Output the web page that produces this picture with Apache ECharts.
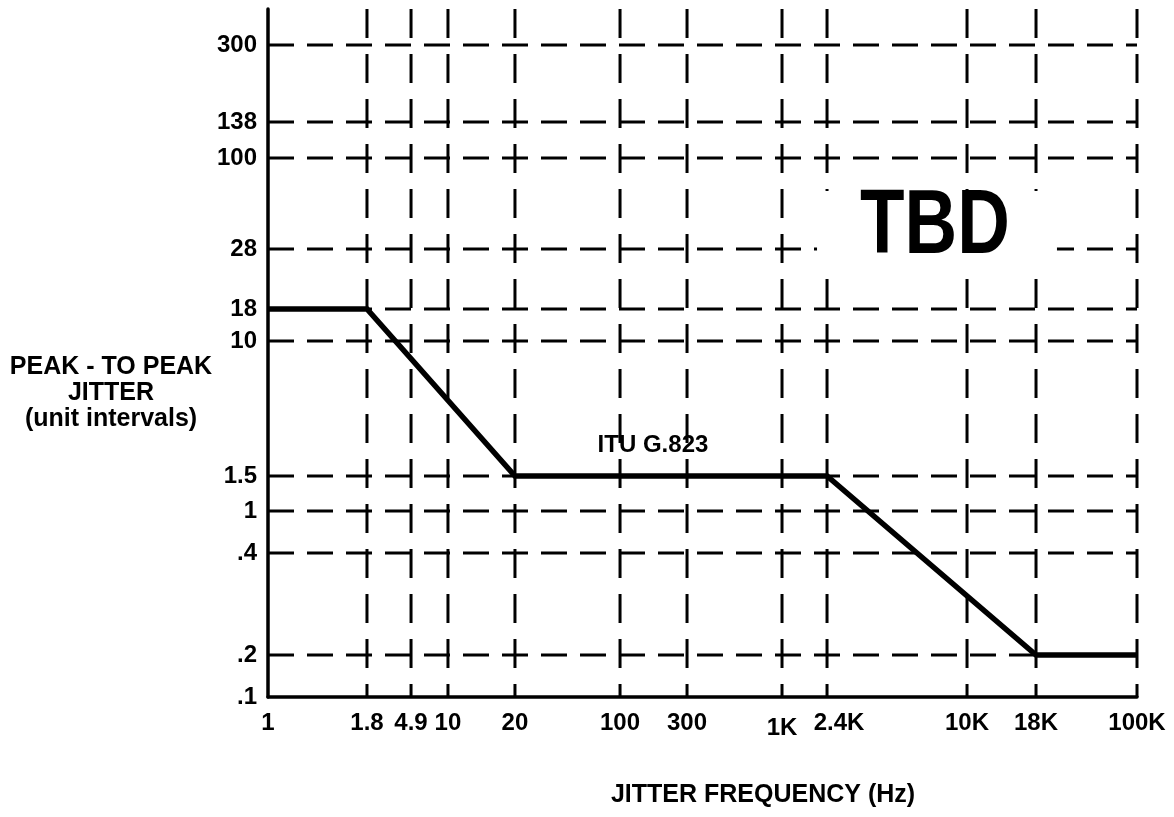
<!DOCTYPE html>
<html><head><meta charset="utf-8">
<script src="https://cdn.jsdelivr.net/npm/echarts@6/dist/echarts.min.js"></script>
<style>html,body{margin:0;padding:0;background:#fff}#c{width:1174px;height:817px}</style>
</head><body><div id="c"></div>
<script>
// ---- data ----
const xTickValues = [1, 1.8, 4.9, 10, 20, 100, 300, 1000, 2400, 10000, 18000, 100000];
const xTickLabels = ['1', '1.8', '4.9', '10', '20', '100', '300', '1K', '2.4K', '10K', '18K', '100K'];
const yTickValues = [0.1, 0.2, 0.4, 1, 1.5, 10, 18, 28, 100, 138, 300];
const yTickLabels = ['.1', '.2', '.4', '1', '1.5', '10', '18', '28', '100', '138', '300'];
// ITU G.823 jitter tolerance mask
const maskFreqHz = [1, 1.8, 20, 2400, 18000, 100000];
const maskJitterUI = [18, 18, 1.5, 1.5, 0.2, 0.2];

// ---- schematic (non-uniform) axis scale: where each tick sits, in % of axis length ----
const X_SCALE = [0, 11.39, 16.46, 20.71, 28.42, 40.51, 48.22, 59.15, 64.33, 80.44, 88.38, 100];
const Y_SCALE = [0, 6.10, 20.93, 27.03, 32.12, 51.74, 56.40, 65.12, 78.34, 83.58, 94.77];

function xPos(v) { return X_SCALE[xTickValues.indexOf(v)]; }
function yPos(v) { return Y_SCALE[yTickValues.indexOf(v)]; }

const FONT = '"Liberation Sans", Arial, Helvetica, sans-serif';
const xLabelMap = new Map(X_SCALE.map((p, i) => [p, xTickLabels[i]]));
const yLabelMap = new Map(Y_SCALE.map((p, i) => [p, yTickLabels[i]]));

const series = [];
// vertical dashed grid lines (skip the first: it is the y axis)
xTickValues.slice(1).forEach(v => {
  series.push({
    type: 'line', silent: true, clip: false, symbol: 'none', z: 2, animation: false,
    lineStyle: { color: '#000', width: 3, type: [29, 16], cap: 'butt' },
    data: [[xPos(v), 100], [xPos(v), 0]]
  });
});
// horizontal dashed grid lines (skip the first: it is the x axis)
yTickValues.slice(1).forEach(v => {
  series.push({
    type: 'line', silent: true, clip: false, symbol: 'none', z: 2, animation: false,
    lineStyle: { color: '#000', width: 3, type: [26, 13], cap: 'butt' },
    data: [[0, yPos(v)], [100, yPos(v)]]
  });
});
// mask line
series.push({
  name: 'ITU G.823', type: 'line', clip: false, symbol: 'none', z: 5, animation: false,
  lineStyle: { color: '#000', width: 5.5, join: 'miter' },
  data: maskFreqHz.map((f, i) => [xPos(f), yPos(maskJitterUI[i])])
});

const labelStyle = { color: '#000', fontFamily: FONT, fontWeight: 'bold', fontSize: 24 };

const chart = echarts.init(document.getElementById('c'), null, { renderer: 'canvas' });
chart.setOption({
  backgroundColor: '#fff',
  animation: false,
  grid: { left: 268, right: 37, top: 9, bottom: 120, containLabel: false, outerBoundsMode: 'none' },
  xAxis: {
    type: 'value', min: 0, max: 100,
    axisLine: { show: true, onZero: false, lineStyle: { color: '#000', width: 3.5 } },
    axisTick: { show: false },
    splitLine: { show: false },
    axisLabel: Object.assign({}, labelStyle, {
      margin: 14,
      customValues: X_SCALE,
      formatter: v => {
        const t = xLabelMap.get(v);
        if (t === '2.4K') return '{a|' + t + '}';
        if (t === '1K') return '{b|' + t + '}';
        return t;
      },
      rich: {
        a: Object.assign({}, labelStyle, { padding: [0, 0, 0, 24] }),
        b: Object.assign({}, labelStyle, { padding: [5, 0, 0, 0] })
      }
    })
  },
  yAxis: {
    type: 'value', min: 0, max: 100,
    axisLine: { show: true, onZero: false, lineStyle: { color: '#000', width: 3.5 } },
    axisTick: { show: false },
    splitLine: { show: false },
    axisLabel: Object.assign({}, labelStyle, {
      margin: 11,
      customValues: Y_SCALE,
      formatter: v => yLabelMap.get(v)
    })
  },
  series: series
});

// annotations placed through the axis scale
const rectA = chart.convertToPixel({ gridIndex: 0 }, [63.18, 73.55]);
const rectB = chart.convertToPixel({ gridIndex: 0 }, [90.79, 62.65]);
const tbd = chart.convertToPixel({ gridIndex: 0 }, [76.75, 68.17]);
const itu = chart.convertToPixel({ gridIndex: 0 }, [44.3, 36.6]);

chart.setOption({
  graphic: [
    { type: 'rect', z: 10, silent: true,
      shape: { x: rectA[0], y: rectA[1], width: rectB[0] - rectA[0], height: rectB[1] - rectA[1] },
      style: { fill: '#fff' } },
    { type: 'text', z: 11, silent: true, x: tbd[0], y: tbd[1], scaleX: 0.81,
      style: { text: 'TBD', font: 'bold 90px ' + FONT, fill: '#000', textAlign: 'center', textVerticalAlign: 'middle' } },
    { type: 'text', z: 11, silent: true, x: itu[0], y: itu[1],
      style: { text: 'ITU G.823', font: 'bold 24px ' + FONT, fill: '#000', textAlign: 'center', textVerticalAlign: 'middle' } },
    { type: 'text', z: 11, silent: true, x: 111, y: 393,
      style: { text: 'PEAK - TO PEAK\nJITTER\n(unit intervals)', font: 'bold 25px ' + FONT, lineHeight: 26,
        fill: '#000', textAlign: 'center', textVerticalAlign: 'middle' } },
    { type: 'text', z: 11, silent: true, x: 763, y: 795,
      style: { text: 'JITTER FREQUENCY (Hz)', font: 'bold 25px ' + FONT, fill: '#000', textAlign: 'center', textVerticalAlign: 'middle' } }
  ]
});
</script>
</body></html>
